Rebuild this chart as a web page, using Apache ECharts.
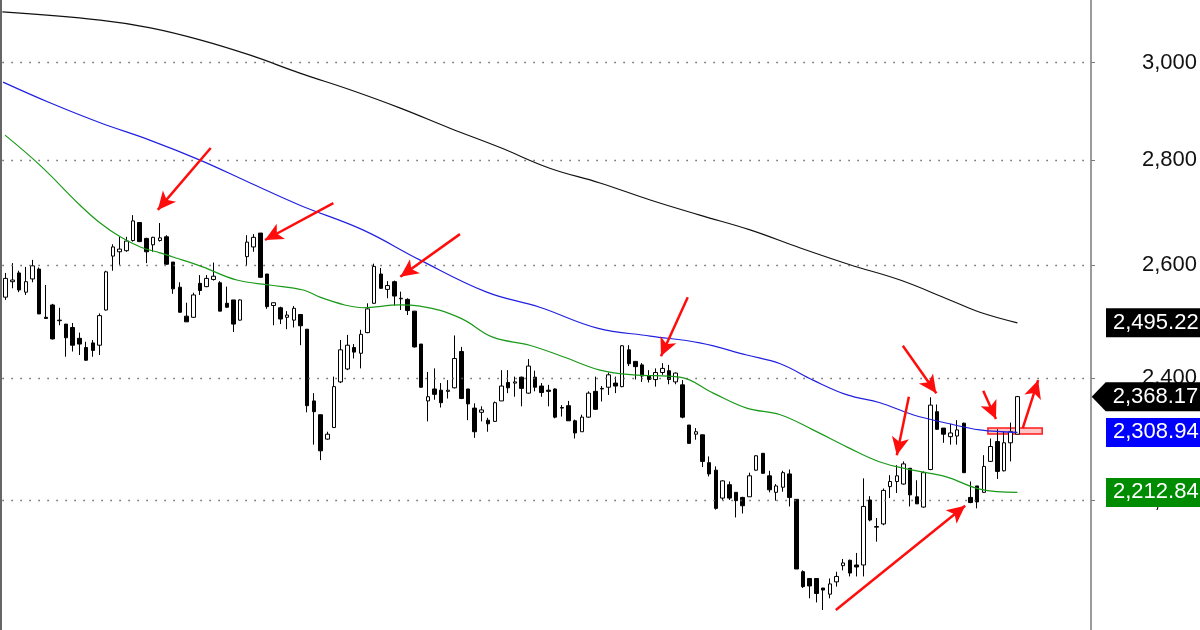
<!DOCTYPE html>
<html>
<head>
<meta charset="utf-8">
<script src="https://cdn.jsdelivr.net/npm/echarts@6/dist/echarts.min.js"></script>
<style>html,body{margin:0;padding:0;background:#fff}#c{width:1200px;height:630px}</style>
</head>
<body>
<div id="c"></div>
<script>
// ---- data ----
const sessionCount = 162; // slots on the time axis (152 traded + empty space on the right)
const sessions = Array.from({length: sessionCount}, (_, i) => 'S' + (i + 1));
const yTicks = [2200, 2400, 2600, 2800, 3000];

const opens = [2541,2569,2585,2550,2574,2592,2505,2527,2499,2493,2487,2468,2452,2460,2456,2518,2616,2624,2626,2645,
2679,2649,2637,2645,2652,2605,2559,2507,2505,2566,2560,2573,2567,2530,2536,2500,2615,2633,2659,2583,
2526,2522,2505,2500,2510,2484,2361,2338,2298,2317,2393,2415,2452,2442,2478,2530,2583,2555,2569,2538,
2537,2516,2458,2361,2381,2379,2377,2383,2445,2381,2349,2342,2329,2327,2361,2392,2391,2401,2374,2401,
2386,2379,2381,2350,2353,2328,2310,2334,2377,2381,2384,2391,2385,2448,2428,2422,2403,2397,2409,2412,
2393,2388,2321,2306,2305,2260,2248,2204,2225,2213,2205,2206,2248,2275,2239,2213,2221,2242,2202,2092,
2082,2082,2068,2059,2077,2101,2109,2102,2102,2201,2159,2164,2222,2230,2226,2251,2206,2190,2249,2343,
2316,2302,2303,2324,2205,2223,2213,2262,2294,2247,2292,2306];
const closes = [2575,2572,2554,2569,2598,2511,2503,2467,2500,2469,2456,2458,2430,2447,2508,2587,2633,2629,2644,2682,
2643,2624,2651,2650,2601,2556,2514,2497,2545,2553,2575,2579,2516,2523,2493,2536,2642,2651,2577,2524,
2531,2502,2509,2521,2490,2353,2343,2279,2306,2385,2448,2456,2444,2475,2520,2597,2557,2562,2543,2539,
2517,2453,2384,2368,2372,2358,2379,2433,2365,2356,2310,2346,2323,2358,2386,2383,2393,2382,2420,2384,
2375,2377,2334,2349,2328,2308,2334,2374,2347,2382,2405,2386,2455,2424,2419,2403,2397,2409,2416,2397,
2408,2334,2291,2310,2262,2242,2188,2231,2204,2200,2192,2239,2271,2243,2217,2223,2244,2205,2096,2070,
2071,2060,2065,2074,2085,2105,2090,2099,2191,2170,2160,2216,2230,2239,2258,2209,2195,2244,2354,2314,
2306,2308,2313,2244,2197,2198,2254,2286,2246,2292,2310,2368.17];
const lows = [2536,2557,2550,2545,2568,2511,2502,2466,2491,2436,2445,2439,2429,2436,2439,2517,2589,2600,2624,2643,
2642,2603,2624,2643,2600,2547,2513,2497,2504,2545,2559,2571,2516,2522,2479,2499,2598,2624,2576,2520,
2491,2493,2484,2487,2456,2342,2289,2264,2297,2316,2391,2413,2433,2416,2477,2529,2556,2539,2526,2518,
2509,2452,2383,2327,2363,2350,2365,2382,2364,2329,2300,2327,2310,2326,2361,2374,2368,2352,2373,2377,
2368,2352,2332,2335,2328,2299,2310,2333,2346,2360,2371,2374,2384,2420,2397,2393,2392,2385,2405,2389,
2389,2332,2291,2297,2253,2238,2186,2201,2201,2174,2180,2206,2247,2242,2213,2200,2214,2191,2096,2068,
2053,2047,2036,2053,2070,2094,2085,2085,2085,2168,2137,2162,2204,2212,2225,2191,2195,2189,2248,2313,
2292,2289,2289,2244,2196,2188,2212,2261,2234,2246,2262,2306];
const highs = [2585,2603,2589,2596,2609,2595,2563,2529,2522,2493,2495,2478,2462,2465,2512,2589,2638,2652,2652,2693,
2679,2650,2652,2678,2655,2605,2568,2531,2549,2581,2581,2604,2570,2560,2536,2537,2655,2657,2659,2583,
2531,2524,2516,2525,2510,2484,2374,2338,2310,2402,2465,2474,2458,2483,2530,2602,2594,2570,2571,2551,
2539,2516,2458,2410,2416,2391,2396,2473,2453,2381,2357,2352,2333,2360,2413,2413,2402,2402,2432,2412,
2391,2388,2382,2354,2361,2330,2338,2377,2402,2386,2409,2402,2456,2456,2428,2425,2413,2416,2425,2422,
2409,2396,2321,2316,2305,2270,2254,2232,2230,2213,2206,2244,2272,2275,2247,2226,2247,2249,2202,2094,
2082,2082,2068,2082,2092,2111,2110,2120,2235,2207,2173,2219,2240,2256,2262,2251,2232,2246,2367,2355,
2316,2323,2329,2325,2230,2223,2272,2299,2314,2310,2325,2369.3];

// moving averages read as [session index, value]
const maLong = [[-0.5,3110],[14.1,3092],[21.6,3075],[29,3049],[36.5,3016],[43.9,2978],[51.4,2943],[58.9,2905],
[66.3,2864],[73.8,2825],[81.2,2784],[88.7,2755],[96.2,2722],[103.6,2693],[111.1,2665],[118.6,2631],[126,2600],
[133.5,2572],[140.9,2536],[145.4,2514],[151,2495.22]];
const maMid = [[-0.4,2959],[6.6,2916],[14.1,2875],[21.5,2840],[29,2800],[36.5,2755],[43.9,2712],[53.3,2665],
[61.8,2609],[71.8,2550],[79.7,2523],[88.3,2486],[96.2,2472],[103.6,2460],[110.6,2439],[115.6,2424],[120.5,2396],
[125.6,2371],[130.5,2358],[135.4,2338],[140.5,2324],[145.4,2313],[151,2308.94]];
const maShort = [[-0.1,2850],[5.1,2790],[11.1,2712],[14.1,2678],[17.1,2652],[20.1,2633],[23,2622],[25.3,2613],
[29.4,2596],[34.5,2572],[39.4,2563],[44.4,2554],[46.9,2541],[50.6,2527],[53.3,2522],[58.8,2527],[61.8,2525],
[67.8,2504],[72.7,2470],[78.2,2456],[83.2,2436],[88.7,2413],[93.6,2405],[100.6,2401],[105.6,2374],[110.6,2349],
[115.6,2338],[120.5,2313],[125.6,2285],[130.5,2261],[135.4,2248],[140.5,2237],[145.4,2218],[151,2212.84]];

// annotation arrows: [fromIndex, fromValue, toIndex, toValue]
const arrows = [[30.6,2824,22.7,2703],[48.9,2716,38.7,2646],[67.8,2657,58.9,2578],[101.8,2541,97.8,2437],
[133.9,2455,138.9,2374],[134.8,2368,133,2272],[145.9,2378,147.8,2331],[151.8,2316,154.1,2396],[123.9,2036,143.2,2192]];
// highlighted box: [fromIndex, topValue, toIndex, bottomValue]
const box = [146.6, 2316.2, 154.7, 2306.3];

// ---- chart ----
const fmt = v => v.toLocaleString('en-US', {minimumFractionDigits: 2, maximumFractionDigits: 2});
const last = a => a[a.length - 1];
const candleData = opens.map((o, i) => [o, closes[i], lows[i], highs[i]]);
const FONT = '"Liberation Sans", Arial, sans-serif';
const Y_MIN = 2007.4, Y_MAX = 3136.2;

const badge = (val, color, cx, arrow) => ({
  coord: [151, val], x: cx,
  symbol: arrow ? 'path://M0,14.5 L14,0 L115,0 L115,29 L14,29 Z' : 'rect',
  symbolSize: arrow ? [115, 29] : [110, 29],
  symbolKeepAspect: false,
  itemStyle: {color: color},
  label: {show: true, formatter: fmt(val), position: [arrow ? 21 : 7, '50%'], align: 'left', verticalAlign: 'middle',
          color: '#fff', fontSize: 22, fontFamily: FONT}
});

const chart = echarts.init(document.getElementById('c'), null, {renderer: 'canvas'});
chart.setOption({
  animation: false,
  backgroundColor: '#fff',
  grid: {left: 2.35, right: 112.25, top: 0, bottom: 0},
  xAxis: [
    {type: 'category', data: sessions, boundaryGap: true, show: false},
    {type: 'value', min: -0.5, max: sessionCount - 0.5, show: false}
  ],
  yAxis: [
    {type: 'log', logBase: 10, min: Y_MIN, max: Y_MAX, position: 'right', offset: 3.25,
     axisLine: {show: true, onZero: false, lineStyle: {color: '#7a7a7a', width: 1.5}},
     axisTick: {show: true, inside: false, length: 4, customValues: yTicks, lineStyle: {color: '#7a7a7a'}},
     axisLabel: {show: true, customValues: yTicks, formatter: v => Number(v).toLocaleString('en-US'),
                 align: 'right', margin: 106, color: '#111', fontSize: 22, fontFamily: FONT},
     splitLine: {show: false}},
    {type: 'log', logBase: 10, min: Y_MIN, max: Y_MAX, position: 'left', offset: 1.85,
     axisLine: {show: true, onZero: false, lineStyle: {color: '#333', width: 1.5}},
     axisTick: {show: false}, axisLabel: {show: false}, splitLine: {show: false}}
  ],
  series: [
    {type: 'line', xAxisIndex: 1, yAxisIndex: 0, data: [], z: 1, silent: true,
     markLine: {silent: true, symbol: ['none', 'none'], label: {show: false},
       lineStyle: {type: [1.5, 7.5], color: '#666', width: 1.3},
       data: yTicks.map(v => ({yAxis: v}))}},
    {type: 'candlestick', xAxisIndex: 0, yAxisIndex: 0, data: candleData, barWidth: 4, z: 2,
     itemStyle: {color: '#fff', color0: '#000', borderColor: '#000', borderColor0: '#000', borderWidth: 1}},
    {type: 'line', xAxisIndex: 1, yAxisIndex: 0, data: maLong, showSymbol: false, smooth: 0.4, z: 3,
     lineStyle: {color: '#111', width: 1.2}},
    {type: 'line', xAxisIndex: 1, yAxisIndex: 0, data: maMid, showSymbol: false, smooth: 0.4, z: 3,
     lineStyle: {color: '#2020e0', width: 1.2}},
    {type: 'line', xAxisIndex: 1, yAxisIndex: 0, data: maShort, showSymbol: false, smooth: 0.4, z: 3,
     lineStyle: {color: '#1a9a1a', width: 1.2}},
    {type: 'line', xAxisIndex: 1, yAxisIndex: 0, data: [], z: 5, silent: true,
     markArea: {silent: true, itemStyle: {color: 'rgba(255,90,90,0.35)', borderColor: '#ff1a1a', borderWidth: 1.5},
       data: [[{coord: [box[0], box[1]]}, {coord: [box[2], box[3]]}]]},
     markLine: {silent: true, symbol: ['none', 'arrow'], symbolSize: [13, 18], label: {show: false},
       lineStyle: {color: '#ff0d0d', width: 2.5, type: 'solid'},
       data: arrows.map(a => [{coord: [a[0], a[1]]}, {coord: [a[2], a[3]]}])},
     markPoint: {silent: true,
       data: [badge(last(maLong)[1], '#000', 1161, false),
              badge(last(closes), '#000', 1149.2, true),
              badge(last(maMid)[1], '#0000ff', 1161, false),
              badge(last(maShort)[1], '#008c00', 1161, false)]}}
  ]
});
</script>
</body>
</html>
